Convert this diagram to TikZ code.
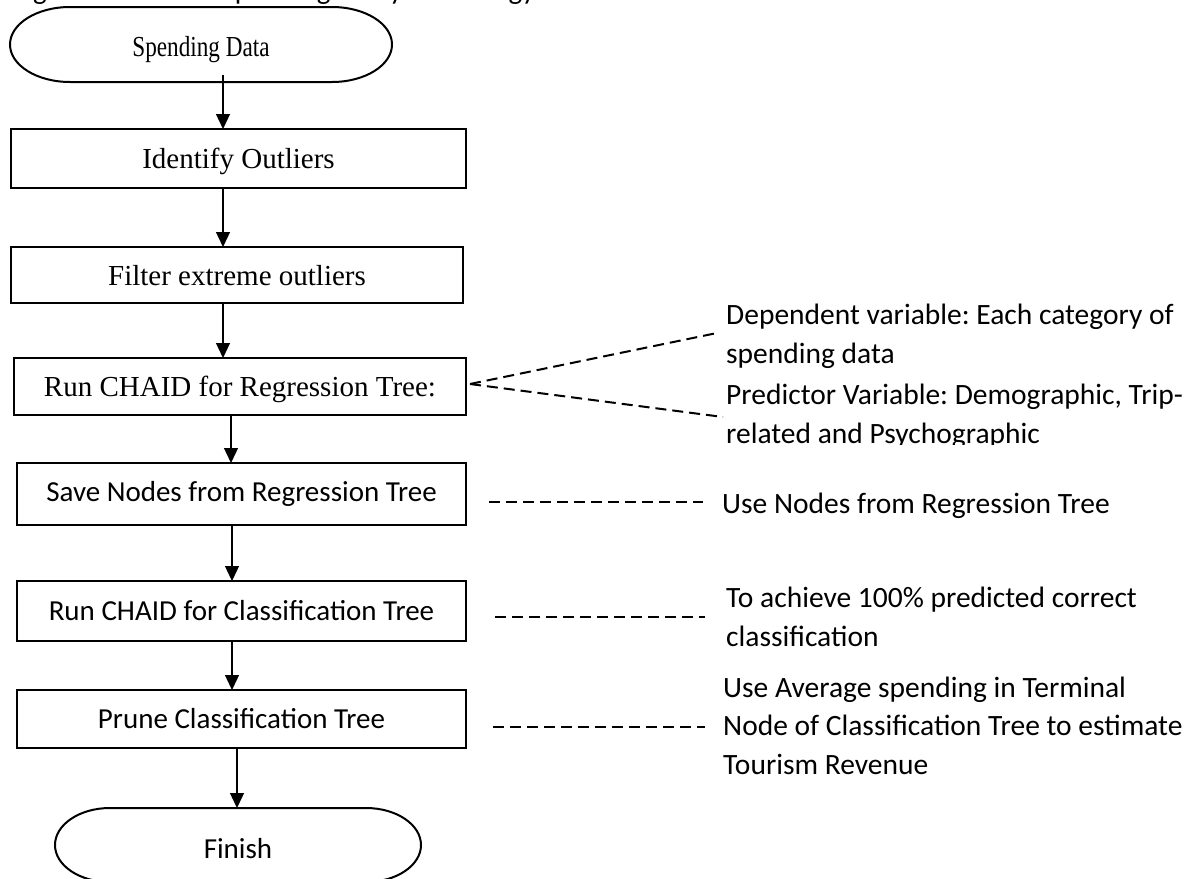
\documentclass[tikz,border=0pt]{standalone}
\usepackage{fontspec}
\setmainfont{Liberation Serif}
\newfontfamily\calibri{Carlito}
\usetikzlibrary{arrows.meta}
\frenchspacing
\begin{document}
\begin{tikzpicture}[x=1pt,y=-1pt,
  box/.style={draw,line width=2pt,inner sep=0pt,outer sep=0pt},
  serifbox/.style={box,font=\fontsize{29}{35}\selectfont,text height=21pt,text depth=1pt},
  sansbox/.style={box,font=\calibri\fontsize{29}{35}\selectfont},
  termnode/.style={inner sep=0pt,outer sep=0pt},
  note/.style={font=\calibri\fontsize{29.5}{38.5}\selectfont\frenchspacing,anchor=base west,inner sep=0pt,align=left},
  flow/.style={line width=1.3pt,-{Triangle[width=14pt,length=15pt]}},
  link/.style={line width=2pt,dash pattern=on 11pt off 6pt},
  term/.style={line width=2pt}]
\clip (0,0) rectangle (1191,878);

% caption (cut off at the top of the picture)
\node[anchor=base west,inner sep=0pt,font=\calibri\fontsize{29}{35}\selectfont\frenchspacing] (cap) at (13,-1) {Figure 1: Tourism Spending Analysis Strategy};

% start terminal
\node[termnode,minimum width=382pt,minimum height=75pt,font=\fontsize{29}{35}\selectfont,text height=24pt,text depth=1pt] (start) at (201,44.5) {\scalebox{0.8}[1]{Spending Data}};
\draw[term] ([xshift=60pt]start.north west) -- ([xshift=-60pt]start.north east)
  arc[start angle=90,end angle=-90,x radius=60pt,y radius=37.5pt]
  -- ([xshift=60pt]start.south west)
  arc[start angle=270,end angle=90,x radius=60pt,y radius=37.5pt] -- cycle;

% process boxes
\node[serifbox,minimum width=455pt,minimum height=59pt] (b1) at (238.5,158.5) {Identify Outliers};
\node[serifbox,minimum width=452pt,minimum height=56pt] (b2) at (237,275) {Filter extreme outliers};
\node[serifbox,minimum width=452pt,minimum height=57pt] (b3) at (240,386.5) {Run CHAID for Regression Tree:};
\node[sansbox,minimum width=449pt,minimum height=62pt] (b4) at (241.5,494) {Save Nodes from Regression Tree};
\node[sansbox,minimum width=449pt,minimum height=60pt] (b5) at (241.5,611) {Run CHAID for Classification Tree};
\node[sansbox,minimum width=449pt,minimum height=58pt] (b6) at (241.5,719) {Prune Classification Tree};

% finish terminal
\node[termnode,minimum width=366pt,minimum height=74pt,font=\calibri\fontsize{29}{35}\selectfont,text height=27pt,text depth=0pt] (fin) at (238,845) {Finish};
\draw[term] ([xshift=55pt]fin.north west) -- ([xshift=-55pt]fin.north east)
  arc[start angle=90,end angle=-90,x radius=55pt,y radius=37pt]
  -- ([xshift=55pt]fin.south west)
  arc[start angle=270,end angle=90,x radius=55pt,y radius=37pt] -- cycle;

% flow arrows
\draw[flow] ([xshift=22pt,yshift=7pt]start.south) -- ([xshift=-15.5pt]b1.north);
\draw[flow] ([xshift=-15.5pt]b1.south) -- ([xshift=-14pt]b2.north);
\draw[flow] ([xshift=-14pt]b2.south) -- ([xshift=-17pt]b3.north);
\draw[flow] ([xshift=-9pt]b3.south) -- ([xshift=-10.5pt]b4.north);
\draw[flow] ([xshift=-9.5pt]b4.south) -- ([xshift=-9.5pt]b5.north);
\draw[flow] ([xshift=-9.5pt]b5.south) -- ([xshift=-9.5pt]b6.north);
\draw[flow] ([xshift=-4.5pt]b6.south) -- ([xshift=-1pt]fin.north);

% notes (anchored at the baseline of their last line)
\node[note] (n1) at (726,363) {Dependent variable: Each category of\\spending data};
\begin{scope}
\clip (700,370) rectangle (1191,444);
\node[note] (n2) at (726,443) {Predictor Variable: Demographic, Trip-\\related and Psychographic};
\end{scope}
\node[note] (n3) at (722,513) {Use Nodes from Regression Tree};
\node[note] (n4) at (726,646) {To achieve 100\% predicted correct\\classification};
\node[note] (n5) at (723,774) {Use Average spending in Terminal\\Node of Classification Tree to estimate\\Tourism Revenue};

% dashed links
\coordinate (e1) at (717,333);
\coordinate (e2) at (723,417);
\coordinate (e3) at (703,502);
\coordinate (e4) at (705,617);
\coordinate (e5) at (705,727);
\draw[link] ([xshift=4pt,yshift=2.5pt]b3.east) -- (e1);
\draw[link] ([xshift=4pt,yshift=2.5pt]b3.east) -- (e2);
\draw[link] ([xshift=23pt,yshift=-8pt]b4.east) -- (e3);
\draw[link] ([xshift=29pt,yshift=-6pt]b5.east) -- (e4);
\draw[link] ([xshift=27pt,yshift=-8pt]b6.east) -- (e5);
\end{tikzpicture}
\end{document}
